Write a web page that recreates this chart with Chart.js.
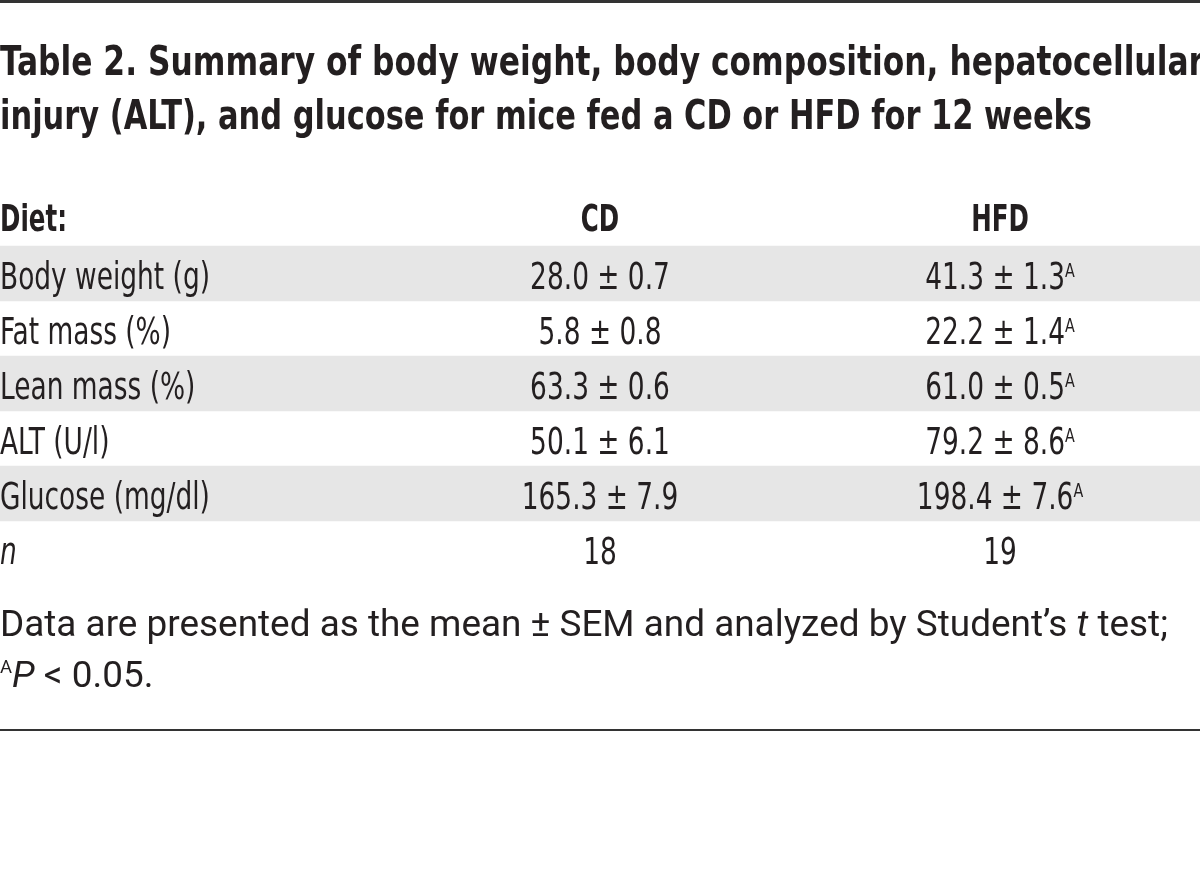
<!DOCTYPE html>
<html>
<head>
<meta charset="utf-8">
<script src="https://cdn.jsdelivr.net/npm/chart.js@4.4.1/dist/chart.umd.min.js"></script>
<style>
    html, body { margin: 0; padding: 0; background: #fff; }
    #wrap { width: 1200px; height: 892px; position: relative; }
</style>
</head>
<body>
<div id="wrap"><canvas id="tableChart"></canvas></div>
<script>
// table content
const titleLines = [
    'Table 2. Summary of body weight, body composition, hepatocellular',
    'injury (ALT), and glucose for mice fed a CD or HFD for 12 weeks'
];
const headerLabel = 'Diet:';
const diets = ['CD', 'HFD'];
const rowLabels = ['Body weight (g)', 'Fat mass (%)', 'Lean mass (%)', 'ALT (U/l)', 'Glucose (mg/dl)'];
const cdMean = [28.0, 5.8, 63.3, 50.1, 165.3];
const cdSem = [0.7, 0.8, 0.6, 6.1, 7.9];
const hfdMean = [41.3, 22.2, 61.0, 79.2, 198.4];
const hfdSem = [1.3, 1.4, 0.5, 8.6, 7.6];
const hfdSig = [true, true, true, true, true];
const groupN = [18, 19];
const nLabel = 'n';
const footnote = [
    [{ t: 'Data are presented as the mean ± SEM and analyzed by Student\u2019s ' }, { t: 't', italic: true }, { t: ' test;' }],
    [{ t: 'A', sup: true }, { t: 'P', italic: true }, { t: ' < 0.05.' }]
];

const allRows = [headerLabel, ...rowLabels, nLabel];
const shaded = allRows.map((_, i) => (i >= 1 && i <= rowLabels.length && i % 2 === 1) ? 6 : null);

const COND = '"Liberation Sans Narrow", "DejaVu Sans Condensed", "Liberation Sans", sans-serif';
const INK = '#231f20';

const styles = {
    title:  { family: COND, weight: 'bold', size: 41, sx: 1, supScale: 0.6, supRise: 12 },
    head:   { family: COND, weight: 'bold', size: 38, sx: 1, supScale: 0.6, supRise: 12 },
    body:   { family: COND, weight: 'normal', size: 37, sx: 1, supScale: 0.55, supRise: 12 },
    note:   { family: 'Roboto, sans-serif', weight: 'normal', size: 36, sx: 1, supScale: 0.5, supRise: 14 }
};

function fontFor(r, st) {
    const size = r.sup ? Math.round(st.size * st.supScale) : st.size;
    return (r.italic ? 'italic ' : '') + st.weight + ' ' + size + 'px ' + st.family;
}
function runsWidth(ctx, runs, st) {
    let w = 0;
    runs.forEach(r => { ctx.font = fontFor(r, st); w += ctx.measureText(r.t).width * st.sx; });
    return w;
}
function drawRuns(ctx, runs, x, y, st, align) {
    const w = runsWidth(ctx, runs, st);
    let cx = align === 'center' ? x - w / 2 : x;
    runs.forEach(r => {
        ctx.font = fontFor(r, st);
        const rw = ctx.measureText(r.t).width * st.sx;
        ctx.save();
        ctx.translate(cx, r.sup ? y - st.supRise : y);
        ctx.scale(st.sx, 1);
        ctx.textAlign = 'left';
        ctx.textBaseline = 'alphabetic';
        ctx.fillStyle = INK;
        ctx.fillText(r.t, 0, 0);
        ctx.restore();
        cx += rw;
    });
}
// squeeze a style so that a known string gets the width it has in the source
function calibrate(ctx, st, runs, target) {
    st.sx = 1;
    st.sx = target / runsWidth(ctx, runs, st);
}

const tablePlugin = {
    id: 'tableText',
    afterDatasetsDraw(chart) {
        const { ctx, chartArea, scales } = chart;
        const x = scales.x, y = scales.y;
        const colX = { label: x.getPixelForValue(0), CD: x.getPixelForValue(3), HFD: x.getPixelForValue(5) };

        calibrate(ctx, styles.head, [{ t: headerLabel }], 67);
        calibrate(ctx, styles.body, [{ t: rowLabels[0] }], 210);
        calibrate(ctx, styles.note, footnote[0], 1168);

        // rules
        ctx.save();
        ctx.fillStyle = '#333';
        ctx.fillRect(0, 0, chart.width, 3);
        ctx.fillRect(0, chartArea.bottom + 153, chart.width, 2);
        ctx.restore();

        // title, each line fitted to its width in the source
        calibrate(ctx, styles.title, [{ t: titleLines[0] }], 1204);
        drawRuns(ctx, [{ t: titleLines[0] }], 0, chartArea.top - 116, styles.title, 'left');
        calibrate(ctx, styles.title, [{ t: titleLines[1] }], 1092);
        drawRuns(ctx, [{ t: titleLines[1] }], 0, chartArea.top - 62, styles.title, 'left');

        // header row
        const hy = y.getPixelForValue(0) + 12;
        drawRuns(ctx, [{ t: headerLabel }], colX.label, hy, styles.head, 'left');
        diets.forEach(d => drawRuns(ctx, [{ t: d }], colX[d], hy, styles.head, 'center'));

        // data rows
        rowLabels.forEach((lab, i) => {
            const by = y.getPixelForValue(i + 1) + 15;
            drawRuns(ctx, [{ t: lab }], colX.label, by, styles.body, 'left');
            drawRuns(ctx, [{ t: cdMean[i].toFixed(1) + ' \u00b1 ' + cdSem[i].toFixed(1) }], colX.CD, by, styles.body, 'center');
            const hRuns = [{ t: hfdMean[i].toFixed(1) + ' \u00b1 ' + hfdSem[i].toFixed(1) }];
            if (hfdSig[i]) hRuns.push({ t: 'A', sup: true });
            drawRuns(ctx, hRuns, colX.HFD, by, styles.body, 'center');
        });

        // n row
        const ny = y.getPixelForValue(allRows.length - 1) + 15;
        drawRuns(ctx, [{ t: nLabel, italic: true }], colX.label, ny, styles.body, 'left');
        diets.forEach((d, j) => drawRuns(ctx, [{ t: String(groupN[j]) }], colX[d], ny, styles.body, 'center'));

        // footnote
        drawRuns(ctx, footnote[0], 0, chartArea.bottom + 60, styles.note, 'left');
        drawRuns(ctx, footnote[1], 0, chartArea.bottom + 111, styles.note, 'left');
    }
};

new Chart(document.getElementById('tableChart'), {
    type: 'bar',
    data: {
        labels: allRows,
        datasets: [{
            data: shaded,
            backgroundColor: '#e6e6e6',
            borderWidth: 0,
            barPercentage: 1,
            categoryPercentage: 1
        }]
    },
    options: {
        indexAxis: 'y',
        responsive: true,
        maintainAspectRatio: false,
        animation: false,
        layout: { padding: { top: 191, bottom: 316, left: 0, right: 0 } },
        plugins: { legend: { display: false }, tooltip: { enabled: false } },
        scales: {
            x: { display: false, min: 0, max: 6 },
            y: { display: false }
        }
    },
    plugins: [tablePlugin]
});
</script>
</body>
</html>
